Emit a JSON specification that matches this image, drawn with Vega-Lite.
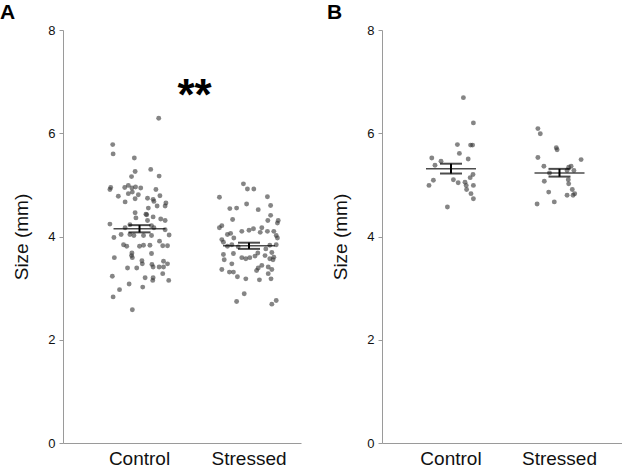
{
  "$schema": "https://vega.github.io/schema/vega-lite/v6.json",
  "padding": {"left": 0, "top": 2, "right": 0, "bottom": 0},
  "background": "white",
  "spacing": 26,
  "config": {
    "font": "Liberation Sans",
    "view": {"stroke": null},
    "axis": {"grid": false, "domainColor": "#9a9a9a", "tickColor": "#9a9a9a", "labelColor": "#111", "titleColor": "#111", "titleFontWeight": "normal"}
  },
  "datasets": {
    "a_pts": [
      {"g":"Control","j":0.24,"v":6.29},{"g":"Control","j":-0.335,"v":5.78},{"g":"Control","j":-0.33,"v":5.60},{"g":"Control","j":-0.065,"v":5.52},
      {"g":"Control","j":0.14,"v":5.30},{"g":"Control","j":-0.055,"v":5.26},{"g":"Control","j":0.245,"v":5.17},{"g":"Control","j":-0.10,"v":5.16},
      {"g":"Control","j":-0.36,"v":4.95},{"g":"Control","j":-0.37,"v":4.91},{"g":"Control","j":-0.185,"v":4.95},{"g":"Control","j":-0.14,"v":4.99},
      {"g":"Control","j":-0.095,"v":4.94},{"g":"Control","j":-0.05,"v":4.96},{"g":"Control","j":0.015,"v":4.94},{"g":"Control","j":-0.265,"v":4.78},
      {"g":"Control","j":-0.14,"v":4.83},{"g":"Control","j":-0.09,"v":4.86},{"g":"Control","j":-0.015,"v":4.81},{"g":"Control","j":0.205,"v":4.91},
      {"g":"Control","j":0.255,"v":4.79},{"g":"Control","j":-0.18,"v":4.67},{"g":"Control","j":-0.055,"v":4.73},{"g":"Control","j":0.10,"v":4.74},
      {"g":"Control","j":0.17,"v":4.72},{"g":"Control","j":0.18,"v":4.68},{"g":"Control","j":0.33,"v":4.65},{"g":"Control","j":0.32,"v":4.59},
      {"g":"Control","j":0.22,"v":4.59},{"g":"Control","j":0.11,"v":4.55},{"g":"Control","j":-0.055,"v":4.46},{"g":"Control","j":0.09,"v":4.42},
      {"g":"Control","j":0.08,"v":4.43},{"g":"Control","j":-0.045,"v":4.36},{"g":"Control","j":0.17,"v":4.38},{"g":"Control","j":0.265,"v":4.34},
      {"g":"Control","j":0.32,"v":4.31},{"g":"Control","j":-0.37,"v":4.24},{"g":"Control","j":-0.12,"v":4.23},{"g":"Control","j":0.10,"v":4.31},
      {"g":"Control","j":0.15,"v":4.21},{"g":"Control","j":-0.18,"v":4.17},{"g":"Control","j":0.18,"v":4.17},{"g":"Control","j":0.32,"v":4.13},
      {"g":"Control","j":-0.23,"v":4.04},{"g":"Control","j":-0.32,"v":3.98},{"g":"Control","j":-0.12,"v":4.04},{"g":"Control","j":-0.07,"v":4.02},
      {"g":"Control","j":0.05,"v":4.02},{"g":"Control","j":0.15,"v":4.02},{"g":"Control","j":0.37,"v":4.03},{"g":"Control","j":-0.20,"v":3.84},
      {"g":"Control","j":-0.16,"v":3.81},{"g":"Control","j":0.0,"v":3.81},{"g":"Control","j":0.05,"v":3.83},{"g":"Control","j":0.13,"v":3.83},
      {"g":"Control","j":0.25,"v":3.91},{"g":"Control","j":0.29,"v":3.82},{"g":"Control","j":0.35,"v":3.82},{"g":"Control","j":-0.095,"v":3.68},
      {"g":"Control","j":-0.10,"v":3.63},{"g":"Control","j":0.15,"v":3.67},{"g":"Control","j":-0.315,"v":3.59},{"g":"Control","j":-0.09,"v":3.59},
      {"g":"Control","j":0.03,"v":3.53},{"g":"Control","j":0.035,"v":3.47},{"g":"Control","j":0.155,"v":3.46},{"g":"Control","j":0.17,"v":3.41},
      {"g":"Control","j":0.245,"v":3.41},{"g":"Control","j":0.30,"v":3.41},{"g":"Control","j":0.35,"v":3.47},{"g":"Control","j":0.30,"v":3.52},
      {"g":"Control","j":-0.15,"v":3.39},{"g":"Control","j":-0.035,"v":3.39},{"g":"Control","j":0.29,"v":3.28},{"g":"Control","j":-0.34,"v":3.23},
      {"g":"Control","j":0.07,"v":3.20},{"g":"Control","j":0.17,"v":3.20},{"g":"Control","j":0.165,"v":3.15},{"g":"Control","j":0.365,"v":3.15},
      {"g":"Control","j":-0.13,"v":3.08},{"g":"Control","j":0.04,"v":3.02},{"g":"Control","j":-0.25,"v":2.97},{"g":"Control","j":-0.33,"v":2.83},
      {"g":"Control","j":-0.09,"v":2.58},
      {"g":"Stressed","j":-0.07,"v":5.02},{"g":"Stressed","j":-0.02,"v":4.92},{"g":"Stressed","j":0.06,"v":4.92},{"g":"Stressed","j":-0.37,"v":4.76},
      {"g":"Stressed","j":0.23,"v":4.77},{"g":"Stressed","j":-0.03,"v":4.63},{"g":"Stressed","j":-0.24,"v":4.54},{"g":"Stressed","j":-0.155,"v":4.55},
      {"g":"Stressed","j":0.115,"v":4.52},{"g":"Stressed","j":0.27,"v":4.60},{"g":"Stressed","j":0.27,"v":4.41},{"g":"Stressed","j":-0.205,"v":4.33},
      {"g":"Stressed","j":0.235,"v":4.31},{"g":"Stressed","j":0.365,"v":4.31},{"g":"Stressed","j":0.355,"v":4.26},{"g":"Stressed","j":-0.34,"v":4.21},
      {"g":"Stressed","j":-0.37,"v":4.17},{"g":"Stressed","j":-0.09,"v":4.10},{"g":"Stressed","j":0.0,"v":4.12},{"g":"Stressed","j":0.055,"v":4.15},
      {"g":"Stressed","j":0.16,"v":4.17},{"g":"Stressed","j":0.14,"v":4.08},{"g":"Stressed","j":0.23,"v":4.10},{"g":"Stressed","j":0.31,"v":4.10},
      {"g":"Stressed","j":-0.27,"v":4.04},{"g":"Stressed","j":-0.23,"v":4.06},{"g":"Stressed","j":-0.19,"v":3.97},{"g":"Stressed","j":0.34,"v":4.02},
      {"g":"Stressed","j":0.355,"v":3.97},{"g":"Stressed","j":-0.34,"v":3.94},{"g":"Stressed","j":-0.32,"v":3.89},{"g":"Stressed","j":-0.27,"v":3.81},
      {"g":"Stressed","j":-0.215,"v":3.84},{"g":"Stressed","j":-0.135,"v":3.80},{"g":"Stressed","j":0.26,"v":3.83},{"g":"Stressed","j":0.34,"v":3.84},
      {"g":"Stressed","j":0.21,"v":3.76},{"g":"Stressed","j":-0.32,"v":3.65},{"g":"Stressed","j":-0.195,"v":3.67},{"g":"Stressed","j":-0.09,"v":3.59},
      {"g":"Stressed","j":-0.04,"v":3.57},{"g":"Stressed","j":0.01,"v":3.59},{"g":"Stressed","j":0.075,"v":3.62},{"g":"Stressed","j":0.11,"v":3.68},
      {"g":"Stressed","j":0.20,"v":3.63},{"g":"Stressed","j":0.285,"v":3.69},{"g":"Stressed","j":0.31,"v":3.60},{"g":"Stressed","j":0.26,"v":3.57},
      {"g":"Stressed","j":-0.31,"v":3.55},{"g":"Stressed","j":-0.215,"v":3.47},{"g":"Stressed","j":-0.34,"v":3.36},{"g":"Stressed","j":-0.245,"v":3.31},
      {"g":"Stressed","j":-0.195,"v":3.31},{"g":"Stressed","j":-0.145,"v":3.22},{"g":"Stressed","j":-0.04,"v":3.18},{"g":"Stressed","j":0.115,"v":3.39},
      {"g":"Stressed","j":0.16,"v":3.44},{"g":"Stressed","j":0.24,"v":3.41},{"g":"Stressed","j":0.285,"v":3.36},{"g":"Stressed","j":0.13,"v":3.16},
      {"g":"Stressed","j":0.275,"v":3.18},{"g":"Stressed","j":0.30,"v":3.55},{"g":"Stressed","j":-0.06,"v":2.89},{"g":"Stressed","j":-0.155,"v":2.74},
      {"g":"Stressed","j":0.34,"v":2.76},{"g":"Stressed","j":0.285,"v":2.69},{"g":"Stressed","j":0.24,"v":3.28},{"g":"Stressed","j":0.095,"v":3.34}
    ],
    "b_pts": [
      {"g":"Control","j":0.155,"v":6.69},{"g":"Control","j":0.28,"v":6.20},{"g":"Control","j":0.08,"v":5.78},{"g":"Control","j":0.245,"v":5.77},
      {"g":"Control","j":0.27,"v":5.77},{"g":"Control","j":0.105,"v":5.61},{"g":"Control","j":0.215,"v":5.50},{"g":"Control","j":-0.24,"v":5.52},
      {"g":"Control","j":-0.125,"v":5.46},{"g":"Control","j":-0.20,"v":5.38},{"g":"Control","j":0.24,"v":5.14},{"g":"Control","j":0.275,"v":5.20},
      {"g":"Control","j":0.03,"v":5.10},{"g":"Control","j":0.09,"v":5.04},{"g":"Control","j":0.175,"v":5.05},{"g":"Control","j":-0.22,"v":5.09},
      {"g":"Control","j":-0.275,"v":4.99},{"g":"Control","j":0.19,"v":4.99},{"g":"Control","j":0.28,"v":4.99},{"g":"Control","j":0.195,"v":4.91},
      {"g":"Control","j":0.25,"v":4.83},{"g":"Control","j":0.28,"v":4.73},{"g":"Control","j":-0.045,"v":4.57},
      {"g":"Stressed","j":-0.27,"v":6.09},{"g":"Stressed","j":-0.24,"v":5.99},{"g":"Stressed","j":-0.04,"v":5.72},{"g":"Stressed","j":-0.03,"v":5.68},
      {"g":"Stressed","j":-0.27,"v":5.53},{"g":"Stressed","j":0.27,"v":5.49},{"g":"Stressed","j":-0.195,"v":5.36},{"g":"Stressed","j":0.115,"v":5.34},
      {"g":"Stressed","j":0.145,"v":5.36},{"g":"Stressed","j":0.18,"v":5.28},{"g":"Stressed","j":0.095,"v":5.28},{"g":"Stressed","j":-0.125,"v":5.23},
      {"g":"Stressed","j":0.11,"v":5.10},{"g":"Stressed","j":0.115,"v":5.02},{"g":"Stressed","j":-0.19,"v":5.07},{"g":"Stressed","j":0.16,"v":4.91},
      {"g":"Stressed","j":0.19,"v":4.83},{"g":"Stressed","j":0.17,"v":4.80},{"g":"Stressed","j":0.095,"v":4.80},{"g":"Stressed","j":-0.135,"v":4.86},
      {"g":"Stressed","j":-0.065,"v":4.67},{"g":"Stressed","j":-0.28,"v":4.63}
    ],
    "a_sum": [
      {"g":"Control","mean":4.15,"lo":4.08,"hi":4.22},
      {"g":"Stressed","mean":3.82,"lo":3.76,"hi":3.88}
    ],
    "b_sum": [
      {"g":"Control","mean":5.31,"lo":5.22,"hi":5.41},
      {"g":"Stressed","mean":5.23,"lo":5.16,"hi":5.31}
    ]
  },
  "hconcat": [
    {
      "width": 238,
      "height": 413,
      "title": {"text": "A", "anchor": "start", "frame": "group", "dx": -63, "offset": -16, "baseline": "alphabetic", "fontSize": 21, "fontWeight": "bold", "color": "#000"},
      "layer": [
        {
          "data": {"name": "a_pts"},
          "mark": {"type": "circle", "size": 24, "color": "#333", "opacity": 0.6},
          "encoding": {
            "x": {"field": "g", "type": "nominal", "title": null,
              "scale": {"domain": ["Control", "Stressed"], "paddingInner": 0.2694, "paddingOuter": 0.2215, "align": 0.753},
              "axis": {"ticks": false, "labelAngle": 0, "labelFontSize": 19, "labelPadding": 6}},
            "xOffset": {"field": "j", "type": "quantitative", "scale": {"domain": [-0.5, 0.5]}},
            "y": {"field": "v", "type": "quantitative", "title": "Size (mm)",
              "scale": {"domain": [0, 8]},
              "axis": {"values": [0, 2, 4, 6, 8], "labelFontSize": 13, "tickSize": 4, "labelPadding": 4, "titleFontSize": 19, "titlePadding": 16}}
          }
        },
        {
          "data": {"name": "a_sum"},
          "mark": {"type": "tick", "size": 52, "thickness": 1.5, "color": "#000"},
          "encoding": {"x": {"field": "g", "type": "nominal"}, "y": {"field": "mean", "type": "quantitative"}}
        },
        {
          "data": {"name": "a_sum"},
          "mark": {"type": "rule", "strokeWidth": 2, "color": "#000"},
          "encoding": {"x": {"field": "g", "type": "nominal"}, "y": {"field": "lo", "type": "quantitative"}, "y2": {"field": "hi"}}
        },
        {
          "data": {"name": "a_sum"},
          "mark": {"type": "tick", "size": 22, "thickness": 2, "color": "#000"},
          "encoding": {"x": {"field": "g", "type": "nominal"}, "y": {"field": "lo", "type": "quantitative"}}
        },
        {
          "data": {"name": "a_sum"},
          "mark": {"type": "tick", "size": 22, "thickness": 2, "color": "#000"},
          "encoding": {"x": {"field": "g", "type": "nominal"}, "y": {"field": "hi", "type": "quantitative"}}
        },
        {
          "data": {"values": [{"label": "**"}]},
          "mark": {"type": "text", "fontSize": 44, "fontWeight": "bold", "align": "center", "baseline": "alphabetic", "color": "#000"},
          "encoding": {
            "text": {"field": "label"},
            "x": {"datum": "Control", "type": "nominal"},
            "xOffset": {"datum": 0.6875, "type": "quantitative"},
            "y": {"datum": 6.45, "type": "quantitative"}
          }
        }
      ]
    },
    {
      "width": 240,
      "height": 413,
      "title": {"text": "B", "anchor": "start", "frame": "group", "dx": -55, "offset": -16, "baseline": "alphabetic", "fontSize": 21, "fontWeight": "bold", "color": "#000"},
      "layer": [
        {
          "data": {"name": "b_pts"},
          "mark": {"type": "circle", "size": 24, "color": "#333", "opacity": 0.6},
          "encoding": {
            "x": {"field": "g", "type": "nominal", "title": null,
              "scale": {"domain": ["Control", "Stressed"], "paddingInner": 0.2627, "paddingOuter": 0.2373, "align": 0.563},
              "axis": {"ticks": false, "labelAngle": 0, "labelFontSize": 19, "labelPadding": 6}},
            "xOffset": {"field": "j", "type": "quantitative", "scale": {"domain": [-0.5, 0.5]}},
            "y": {"field": "v", "type": "quantitative", "title": "Size (mm)",
              "scale": {"domain": [0, 8]},
              "axis": {"values": [0, 2, 4, 6, 8], "labelFontSize": 13, "tickSize": 4, "labelPadding": 4, "titleFontSize": 19, "titlePadding": 16}}
          }
        },
        {
          "data": {"name": "b_sum"},
          "mark": {"type": "tick", "size": 50, "thickness": 1.5, "color": "#000"},
          "encoding": {"x": {"field": "g", "type": "nominal"}, "y": {"field": "mean", "type": "quantitative"}}
        },
        {
          "data": {"name": "b_sum"},
          "mark": {"type": "rule", "strokeWidth": 2, "color": "#000"},
          "encoding": {"x": {"field": "g", "type": "nominal"}, "y": {"field": "lo", "type": "quantitative"}, "y2": {"field": "hi"}}
        },
        {
          "data": {"name": "b_sum"},
          "mark": {"type": "tick", "size": 22, "thickness": 2, "color": "#000"},
          "encoding": {"x": {"field": "g", "type": "nominal"}, "y": {"field": "lo", "type": "quantitative"}}
        },
        {
          "data": {"name": "b_sum"},
          "mark": {"type": "tick", "size": 22, "thickness": 2, "color": "#000"},
          "encoding": {"x": {"field": "g", "type": "nominal"}, "y": {"field": "hi", "type": "quantitative"}}
        }
      ]
    }
  ]
}
